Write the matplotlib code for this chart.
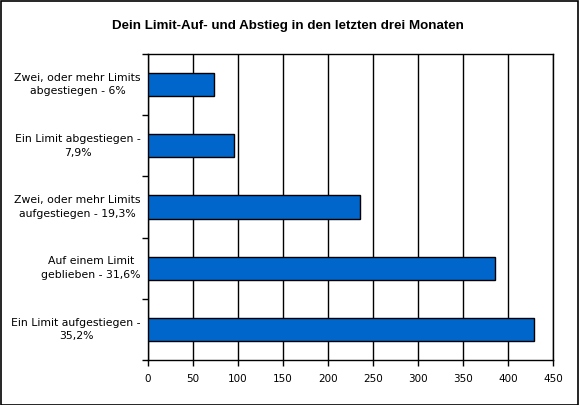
import matplotlib
matplotlib.use("Agg")
import matplotlib.pyplot as plt
from matplotlib.patches import Rectangle

# categories from top to bottom, as in the chart
categories = [
    "Zwei, oder mehr Limits\nabgestiegen - 6%",
    "Ein Limit abgestiegen -\n7,9%",
    "Zwei, oder mehr Limits\naufgestiegen - 19,3%",
    "Auf einem Limit\ngeblieben - 31,6%",
    "Ein Limit aufgestiegen -\n35,2%",
]
values = [73, 96, 235, 385, 429]
x_ticks = [0, 50, 100, 150, 200, 250, 300, 350, 400, 450]
title = "Dein Limit-Auf- und Abstieg in den letzten drei Monaten"

fig = plt.figure(figsize=(5.79, 4.05), dpi=100)
ax = fig.add_axes([148 / 579, 1 - 360 / 405, 405 / 579, 306 / 405])

n = len(categories)
pos = list(range(n))
ax.barh(pos, values, height=0.38, color="#0066CC", edgecolor="black",
        linewidth=1.0, zorder=3)

ax.set_xlim(0, 450)
ax.set_ylim(n - 0.5, -0.5)

ax.set_xticks(x_ticks)
ax.set_xticklabels([str(t) for t in x_ticks], fontsize=7.5, family="DejaVu Sans")
ax.xaxis.grid(True, color="black", linewidth=1.0, zorder=1)

# category boundary ticks on the y axis, labels placed between them
ax.set_yticks([i - 0.5 for i in range(n + 1)])
ax.set_yticklabels([])
ax.tick_params(axis="y", length=4, width=1, color="black")
ax.tick_params(axis="x", length=4, width=1, color="black", pad=6)
for i, lab in enumerate(categories):
    ax.text(-8, i, lab, ha="right", va="center", multialignment="center",
            fontsize=7.8, linespacing=1.45, family="DejaVu Sans")

for side in ["left", "bottom", "top", "right"]:
    ax.spines[side].set_linewidth(1.0)
    ax.spines[side].set_color("black")

fig.text(288 / 579, 1 - 26 / 405, title, ha="center", va="center",
         fontsize=9.6, fontweight="bold", family="Liberation Sans")

fig.patches.append(Rectangle((0.001, 0.001), 0.997, 0.996, transform=fig.transFigure,
                             fill=False, edgecolor="black", linewidth=1.2))

fig.savefig("out.png", dpi=100)
